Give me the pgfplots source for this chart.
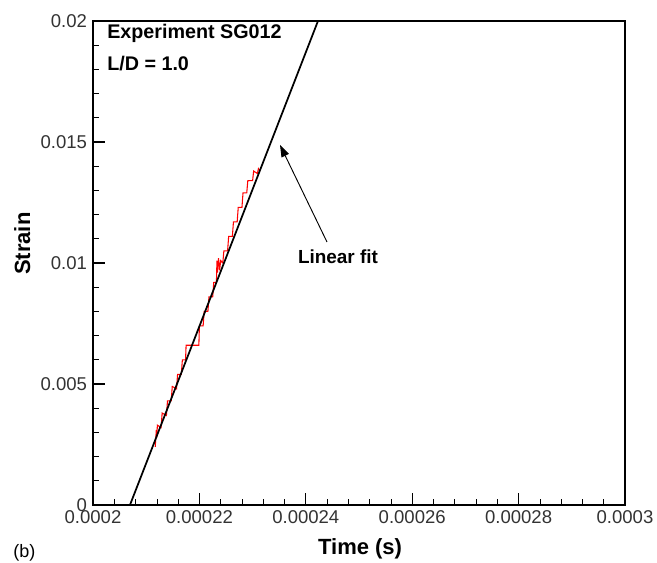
\documentclass[border=0pt]{standalone}
\usepackage{pgfplots}
\pgfplotsset{compat=1.18}
\usepackage{fontspec}
\setmainfont{Liberation Sans}
\usetikzlibrary{arrows.meta}
\begin{document}
\begin{tikzpicture}
\begin{axis}[
  at={(0,0)}, anchor=south west,
  scale only axis, width=399pt, height=363pt,
  xmin=0.0002, xmax=0.0003, ymin=0, ymax=0.02,
  scaled x ticks=false, scaled y ticks=false,
  axis line style={line width=1.1pt},
  xtick={0.0002,0.00022,0.00024,0.00026,0.00028,0.0003},
  xticklabels={0.0002,0.00022,0.00024,0.00026,0.00028,0.0003},
  ytick={0,0.005,0.01,0.015,0.02},
  yticklabels={0,0.005,0.01,0.015,0.02},
  minor x tick num=4, minor y tick num=4,
  xtick pos=bottom, ytick pos=left,
  tick align=inside,
  major tick length=9pt, minor tick length=4.5pt,
  every tick/.style={black, line width=0.9pt},
  minor tick style={line width=0.5pt},
  tick label style={font=\fontsize{13.9}{15}\selectfont, text=black!80},
  /pgf/number format/assume math mode=true,
  xticklabel style={yshift=-1pt},
  yticklabel style={xshift=-1pt},
  xlabel={\textbf{Time (s)}},
  ylabel={\textbf{Strain}},
  label style={font=\fontsize{16.5}{18}\selectfont},
  xlabel style={at={(axis description cs:0.502,0)}, anchor=center, yshift=-33pt},
  ylabel style={at={(axis description cs:-0.133,0.54)}, anchor=center},
  clip=true,
]
\addplot[red, line width=0.8pt] coordinates {
(2.117e-4,0.0024) (2.119e-4,0.0031) (2.120e-4,0.0028) (2.121e-4,0.0033)
(2.128e-4,0.0032) (2.130e-4,0.0038) (2.138e-4,0.0037) (2.140e-4,0.0043)
(2.147e-4,0.0043) (2.149e-4,0.0049) (2.157e-4,0.0048) (2.159e-4,0.0054)
(2.166e-4,0.0054) (2.168e-4,0.0060) (2.174e-4,0.0060) (2.175e-4,0.0066)
(2.199e-4,0.0066) (2.200e-4,0.0074) (2.207e-4,0.0074) (2.209e-4,0.0080)
(2.216e-4,0.0080) (2.218e-4,0.0086) (2.225e-4,0.0086) (2.227e-4,0.0092)
(2.232e-4,0.0092) (2.233e-4,0.0101) (2.234e-4,0.0096) (2.236e-4,0.0102)
(2.238e-4,0.0097) (2.240e-4,0.0101) (2.244e-4,0.0100) (2.246e-4,0.0105)
(2.253e-4,0.0105) (2.255e-4,0.0111) (2.262e-4,0.0111) (2.264e-4,0.0117)
(2.271e-4,0.0117) (2.273e-4,0.0123) (2.280e-4,0.0123) (2.282e-4,0.0129)
(2.289e-4,0.0129) (2.291e-4,0.0134) (2.300e-4,0.0134) (2.302e-4,0.0138)
(2.309e-4,0.0137) (2.311e-4,0.0139) (2.314e-4,0.0138)
};
\addplot[black, line width=1.3pt] coordinates {(2.0695e-4,0) (2.4229e-4,0.02)};
\draw[-{Triangle[length=9pt,width=6pt]}, line width=0.7pt] (axis cs:2.4398e-4,0.01087) -- (axis cs:2.3515e-4,0.01488);
\node[anchor=center, font=\fontsize{14.2}{16}\selectfont\bfseries] at (axis description cs:0.4605,0.512) {Linear fit};
\node[anchor=west, inner sep=0pt, font=\fontsize{14.8}{16}\selectfont\bfseries] at ([xshift=10.5pt]axis description cs:0,0.975) {Experiment SG012};
\node[anchor=west, inner sep=0pt, font=\fontsize{14.8}{16}\selectfont\bfseries] at ([xshift=10.5pt]axis description cs:0,0.913) {L/D = 1.0};
\end{axis}
\node[anchor=west, inner sep=0pt, font=\fontsize{13.5}{15}\selectfont] at (-60pt,-36pt) {(b)};
\pgfresetboundingbox
\path (-69.75pt,-43.5pt) rectangle (423pt,378.75pt);
\end{tikzpicture}
\end{document}
